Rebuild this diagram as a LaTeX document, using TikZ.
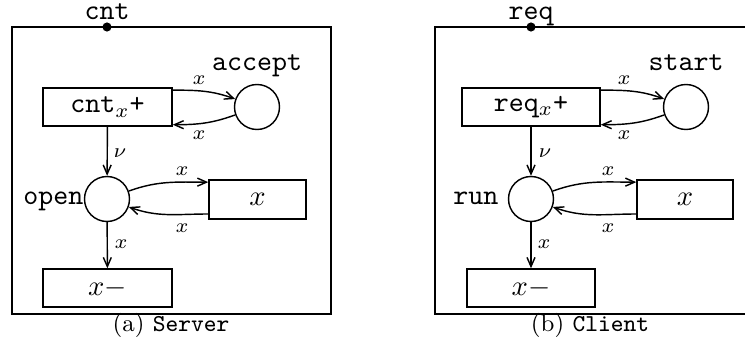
\documentclass[tikz,border=0pt]{standalone}
\usetikzlibrary{arrows.meta}
\begin{document}
\begin{tikzpicture}[x=0.35pt,y=-0.35pt, line width=0.5pt,
  box/.style={draw, inner sep=0pt, minimum height=38*0.35pt, font=\ttfamily},
  place/.style={draw, circle, minimum size=45*0.35pt, inner sep=0pt},
  lbl/.style={font=\ttfamily, inner sep=0pt},
  el/.style={font=\scriptsize, inner sep=0pt},
  captxt/.style={font=\fontsize{8.5}{10}\selectfont, inner sep=0pt},
  arr/.style={-{Straight Barb[length=3.2pt,width=2.8pt]}}]
\useasboundingbox (0,0) rectangle (745,345);
% ---------- (a) Server ----------
\draw (12,27) rectangle (331,314);
\coordinate (pa) at (107,27);
\fill (pa) circle[radius=1.6pt];
\node[lbl, anchor=base] (cntl) at (107,20) {cnt};
\node[box, minimum width=129*0.35pt] (cnt) at (107.5,107) {cnt$_x$+};
\node[place] (acc) at (257,107) {};
\node[lbl, anchor=base] (accl) at (257,71) {accept};
\node[place] (op) at (107,199) {};
\node[lbl, anchor=base east] (opl) at (84,205) {open};
\node[box, minimum width=97*0.35pt, minimum height=39*0.35pt] (xa) at (257.5,199.5) {$x$};
\node[box, minimum width=129*0.35pt] (xma) at (107.5,288) {$x-$};
\node[captxt, anchor=base] (capa) at (171,331) {(a)\ \texttt{Server}};
\draw[arr] ([yshift=-1pt]cnt.north east) to[out=0,in=160] (acc.160);
\node[el] (la1) at (199,80) {$x$};
\draw[arr] (acc.200) to[out=200,in=0] ([yshift=0.7pt]cnt.south east);
\node[el] (la2) at (199,135) {$x$};
\draw[arr] (op.20) to[out=20,in=180] ([yshift=-1pt]xa.north west);
\node[el] (la3) at (182,171) {$x$};
\draw[arr] ([yshift=2pt]xa.south west) to[out=180,in=-20] (op.-20);
\node[el] (la4) at (182,228) {$x$};
\draw[arr] (cnt) -- (op);
\node[el] (la5) at (120,153) {$\nu$};
\draw[arr] (op) -- (xma);
\node[el] (la6) at (121,244) {$x$};
% ---------- (b) Client ----------
\draw (745,27) -- (435,27) -- (435,314) -- (745,314);
\coordinate (pb) at (531,27);
\fill (pb) circle[radius=1.6pt];
\node[lbl, anchor=base] (reql) at (531,20) {req};
\node[box, minimum width=138*0.35pt] (req) at (531,107) {req$_x$+};
\node[place] (st) at (686,107) {};
\node[lbl, anchor=base] (stl) at (686,71) {start};
\node[place] (run) at (531,199) {};
\node[lbl, anchor=base east] (runl) at (499,205) {run};
\node[box, minimum width=96*0.35pt, minimum height=39*0.35pt] (xb) at (685,199.5) {$x$};
\node[box, minimum width=128*0.35pt] (xmb) at (531,288) {$x-$};
\node[captxt, anchor=base] (capb) at (590,331) {(b)\ \texttt{Client}};
\draw[arr] ([yshift=-1pt]req.north east) to[out=0,in=160] (st.160);
\node[el] (lb1) at (624,80) {$x$};
\draw[arr] (st.200) to[out=200,in=0] ([yshift=0.7pt]req.south east);
\node[el] (lb2) at (624,135) {$x$};
\draw[arr] (run.20) to[out=20,in=180] ([yshift=-1pt]xb.north west);
\node[el] (lb3) at (608,171) {$x$};
\draw[arr] ([yshift=2pt]xb.south west) to[out=180,in=-20] (run.-20);
\node[el] (lb4) at (608,228) {$x$};
\draw[arr] (req) -- (run);
\node[el] (lb5) at (545,153) {$\nu$};
\draw[arr] (run) -- (xmb);
\node[el] (lb6) at (544,244) {$x$};
\end{tikzpicture}
\end{document}
